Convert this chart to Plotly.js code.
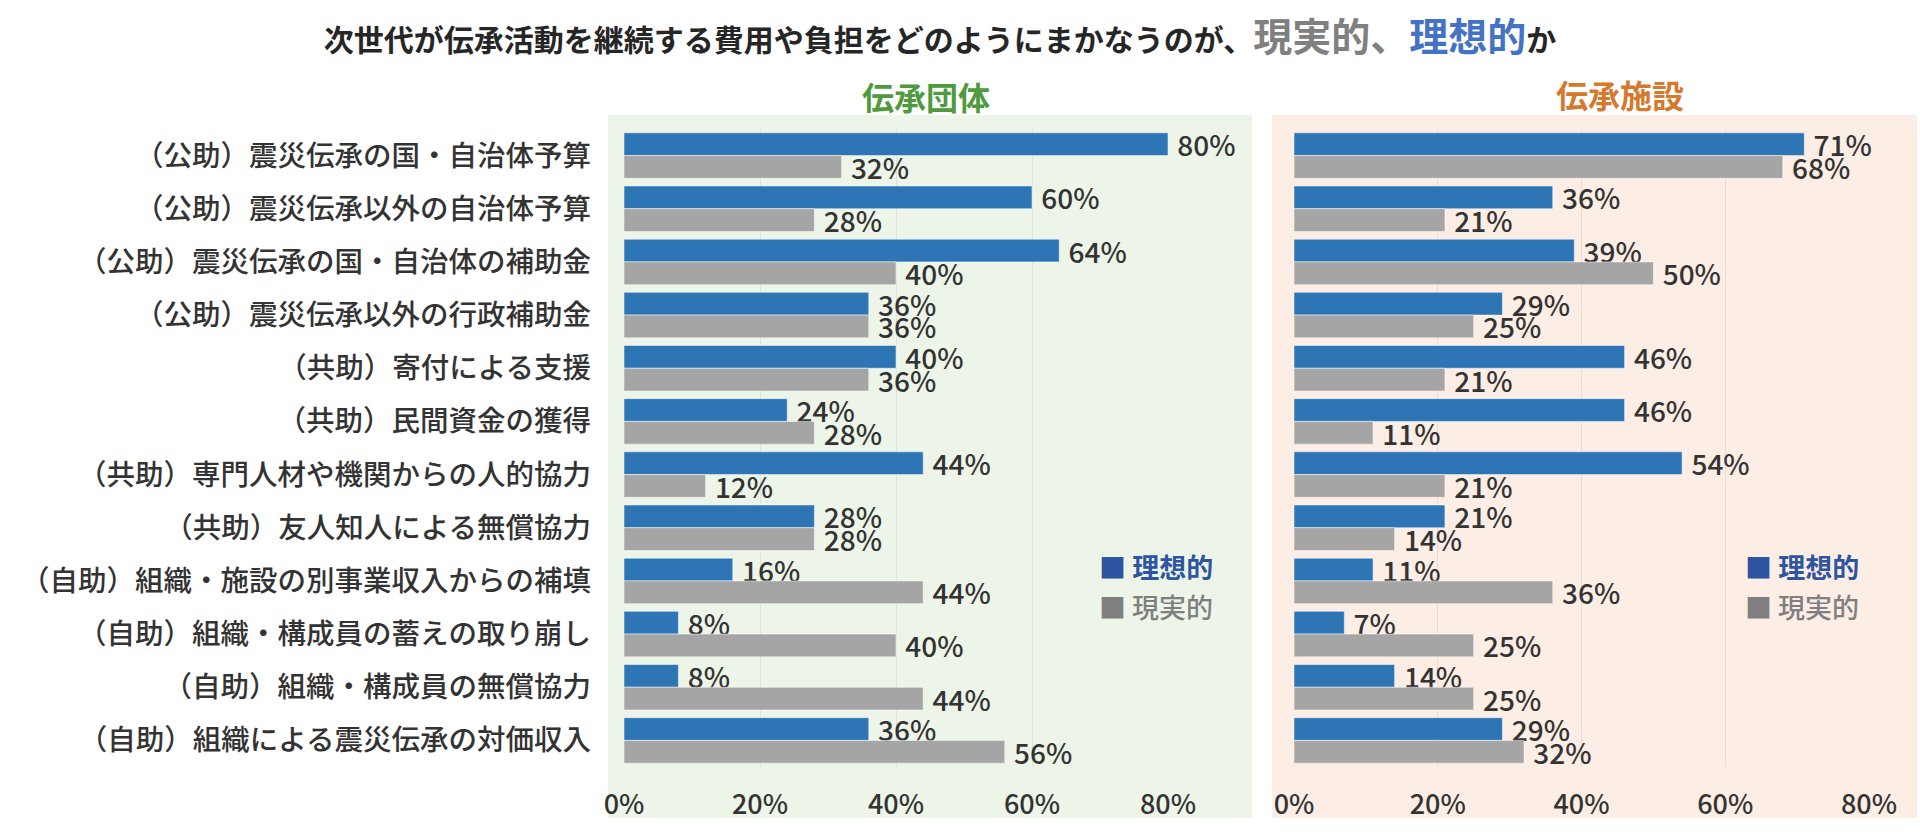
<!DOCTYPE html>
<html>
<head>
<meta charset="utf-8">
<script src="https://cdn.plot.ly/plotly-3.0.1.min.js"></script>
<style>
  html, body { margin: 0; padding: 0; background: #ffffff; }
  #graph { width: 1920px; height: 835px; }
</style>
</head>
<body>
<div id="graph"></div>
<script>
// categories, top to bottom
const categories = [
  '（公助）震災伝承の国・自治体予算',
  '（公助）震災伝承以外の自治体予算',
  '（公助）震災伝承の国・自治体の補助金',
  '（公助）震災伝承以外の行政補助金',
  '（共助）寄付による支援',
  '（共助）民間資金の獲得',
  '（共助）専門人材や機関からの人的協力',
  '（共助）友人知人による無償協力',
  '（自助）組織・施設の別事業収入からの補填',
  '（自助）組織・構成員の蓄えの取り崩し',
  '（自助）組織・構成員の無償協力',
  '（自助）組織による震災伝承の対価収入'
];

const panelNames = ['伝承団体', '伝承施設'];
const seriesNames = ['理想的', '現実的'];

// 伝承団体
const groupIdeal = [0.80, 0.60, 0.64, 0.36, 0.40, 0.24, 0.44, 0.28, 0.16, 0.08, 0.08, 0.36];
const groupReal  = [0.32, 0.28, 0.40, 0.36, 0.36, 0.28, 0.12, 0.28, 0.44, 0.40, 0.44, 0.56];

// 伝承施設
const facilityIdeal = [0.71, 0.36, 0.39, 0.29, 0.46, 0.46, 0.54, 0.21, 0.11, 0.07, 0.14, 0.29];
const facilityReal  = [0.68, 0.21, 0.50, 0.25, 0.21, 0.11, 0.21, 0.14, 0.36, 0.25, 0.25, 0.32];

const xTickVals = [0, 0.2, 0.4, 0.6, 0.8];
const xTickText = ['0%', '20%', '40%', '60%', '80%'];

document.addEventListener('DOMContentLoaded', function(event)
{
  displayPlot("graph");
});

function displayPlot(divPlot)
{
  const W = 1920, H = 835;
  const font = '"Noto Sans CJK JP", "Noto Sans", sans-serif';
  const barColors = ['#2e75b6', '#a5a5a5'];
  const legendColors = ['#2f55a0', '#7f7f7f'];
  const labelFont = { family: font, size: 28, color: '#333333', weight: 500 };

  // pixel helpers for paper coordinates
  const px = v => v / W;
  const py = v => 1 - v / H;

  function barTrace(values, i, xa, ya)
  {
    return {
      type: 'bar',
      orientation: 'h',
      name: seriesNames[i],
      x: values,
      y: categories,
      xaxis: xa,
      yaxis: ya,
      marker: { color: barColors[i], line: { color: 'rgba(255,255,255,0.5)', width: 1 } },
      texttemplate: '\u00a0%{x:.0%}',
      textposition: 'outside',
      textfont: labelFont,
      cliponaxis: false,
      constraintext: 'none',
      hoverinfo: 'x+y+name',
      showlegend: false
    };
  }

  let plotData = [];
  plotData.push(barTrace(groupIdeal, 0, 'x', 'y'));
  plotData.push(barTrace(groupReal, 1, 'x', 'y'));
  plotData.push(barTrace(facilityIdeal, 0, 'x2', 'y2'));
  plotData.push(barTrace(facilityReal, 1, 'x2', 'y2'));

  const plotTop = 129, plotBottom = 767;
  const yDomain = [py(plotBottom), py(plotTop)];

  function xAxis(domain, anchor)
  {
    return {
      domain: domain,
      anchor: anchor,
      range: [0, 0.8],
      autorange: false,
      tickvals: xTickVals,
      ticktext: xTickText,
      tickfont: { family: font, size: 27, color: '#333333', weight: 500 },
      ticklabelstandoff: 19,
      showgrid: true,
      gridcolor: 'rgba(0,0,0,0.07)',
      gridwidth: 1,
      zeroline: false,
      showline: false,
      fixedrange: true
    };
  }

  let titleText =
    '次世代が伝承活動を継続する費用や負担をどのようにまかなうのが、' +
    '<span style="font-size:39px;color:#808080">' + seriesNames[1] + '、</span>' +
    '<span style="font-size:39px;color:#4472c4">' + seriesNames[0] + '</span>か';

  let annotations = [
    { text: panelNames[0], x: px(926), y: py(96), xref: 'paper', yref: 'paper',
      showarrow: false, xanchor: 'center', yanchor: 'middle',
      font: { family: font, size: 32, color: '#4e9a3c', weight: 700 } },
    { text: panelNames[1], x: px(1620), y: py(94), xref: 'paper', yref: 'paper',
      showarrow: false, xanchor: 'center', yanchor: 'middle',
      font: { family: font, size: 32, color: '#d6782e', weight: 700 } }
  ];

  // legend boxes drawn as text so the square size matches the original
  const legendX = [1097, 1743];
  const legendY = [566, 606];
  legendX.forEach(function(lx)
  {
    seriesNames.forEach(function(name, i)
    {
      annotations.push({
        text: '<span style="color:' + legendColors[i] + '">■</span> ' + name,
        x: px(lx), y: py(legendY[i]), xref: 'paper', yref: 'paper',
        showarrow: false, xanchor: 'left', yanchor: 'middle',
        font: { family: font, size: 27, color: legendColors[i], weight: i === 0 ? 700 : 500 }
      });
    });
  });

  let layout =
  {
    width: W,
    height: H,
    margin: { l: 0, r: 0, t: 0, b: 0 },
    paper_bgcolor: '#ffffff',
    plot_bgcolor: 'rgba(0,0,0,0)',
    font: { family: font, color: '#333333' },
    title:
    {
      text: titleText,
      x: px(940),
      y: py(40),
      xanchor: 'center',
      yanchor: 'middle',
      font: { family: font, size: 30, color: '#262626', weight: 700 }
    },
    barmode: 'group',
    bargap: 0.144,
    bargroupgap: 0,
    xaxis: xAxis([px(624), px(1168)], 'y'),
    xaxis2: xAxis([px(1294), px(1869)], 'y2'),
    yaxis:
    {
      domain: yDomain,
      anchor: 'x',
      type: 'category',
      autorange: 'reversed',
      tickfont: { family: font, size: 28.5, color: '#333333', weight: 500 },
      ticklabelstandoff: 32,
      showgrid: false,
      zeroline: false,
      showline: false,
      fixedrange: true
    },
    yaxis2:
    {
      domain: yDomain,
      anchor: 'x2',
      type: 'category',
      autorange: 'reversed',
      showticklabels: false,
      showgrid: false,
      zeroline: false,
      showline: false,
      fixedrange: true
    },
    shapes:
    [
      { type: 'rect', xref: 'paper', yref: 'paper', layer: 'below',
        x0: px(608), x1: px(1252), y0: py(818), y1: py(115),
        fillcolor: '#edf5e8', line: { width: 0 } },
      { type: 'rect', xref: 'paper', yref: 'paper', layer: 'below',
        x0: px(1272), x1: px(1917), y0: py(818), y1: py(115),
        fillcolor: '#fcede5', line: { width: 0 } }
    ],
    annotations: annotations,
    showlegend: false,
    hovermode: 'closest'
  };

  Plotly.newPlot(divPlot, plotData, layout, { displayModeBar: false });
}
</script>
</body>
</html>
